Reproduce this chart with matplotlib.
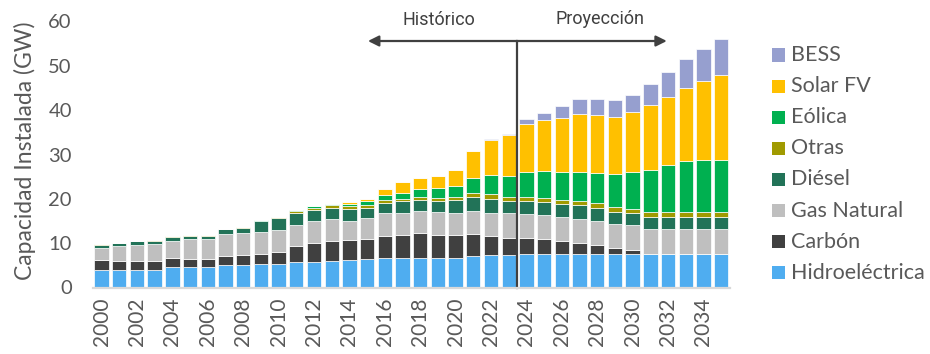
import matplotlib
matplotlib.use("Agg")
import matplotlib.pyplot as plt
from matplotlib.patches import Rectangle
import numpy as np

years = list(range(2000, 2036))
categories = ["Hidroeléctrica", "Carbón", "Gas Natural", "Diésel", "Otras", "Eólica", "Solar FV", "BESS"]
colors = ["#4FADF0", "#404040", "#BFBFBF", "#227358", "#A09A00", "#00B050", "#FFC000", "#969FCF"]

hidro = [3.95, 3.95, 3.95, 3.95, 4.6, 4.6, 4.6, 5.1, 5.1, 5.3, 5.3, 5.8, 5.8, 5.9, 6.2, 6.4, 6.6, 6.7,
         6.7, 6.7, 6.7, 7.0, 7.3, 7.4, 7.6, 7.6, 7.6, 7.6, 7.6, 7.6, 7.6, 7.6, 7.6, 7.6, 7.6, 7.6]
carbon = [2.15, 2.05, 2.05, 2.05, 2.0, 1.9, 1.9, 2.1, 2.3, 2.3, 2.7, 3.5, 4.25, 4.5, 4.5, 4.5, 5.1, 5.2,
          5.6, 5.2, 5.2, 5.1, 4.3, 3.8, 3.6, 3.3, 2.8, 2.4, 2.0, 1.2, 0.9, 0.0, 0.0, 0.0, 0.0, 0.0]
gas = [2.9, 3.3, 3.6, 3.9, 4.0, 4.4, 4.4, 4.8, 4.9, 4.9, 5.0, 4.9, 5.0, 5.1, 4.2, 4.7, 5.0, 4.9,
       5.0, 5.1, 4.8, 5.1, 5.1, 5.5, 5.4, 5.5, 5.4, 5.5, 5.4, 5.5, 5.5, 5.5, 5.5, 5.5, 5.5, 5.5]
diesel = [0.6, 0.7, 0.8, 0.7, 0.8, 0.8, 0.8, 1.1, 1.2, 2.4, 2.6, 2.7, 2.45, 2.5, 2.8, 2.3, 2.4, 2.6,
          2.5, 2.6, 3.1, 3.2, 3.3, 2.8, 2.8, 2.8, 3.0, 3.0, 3.0, 2.8, 2.8, 2.9, 2.9, 2.9, 2.9, 2.9]
otras = [0.15, 0.1, 0.1, 0.1, 0.15, 0.15, 0.15, 0.1, 0.1, 0.2, 0.2, 0.3, 0.5, 0.5, 0.7, 0.6, 0.7, 0.6,
         0.6, 0.6, 0.6, 0.9, 1.0, 1.0, 1.0, 1.0, 0.9, 0.9, 1.0, 1.0, 0.9, 1.0, 1.0, 1.0, 1.0, 1.0]
eolica = [0, 0, 0, 0, 0, 0, 0, 0, 0, 0.1, 0.1, 0.2, 0.3, 0.3, 0.5, 1.1, 1.1, 1.4,
          1.8, 2.2, 2.5, 3.5, 4.3, 4.7, 5.7, 6.1, 6.4, 6.7, 6.9, 7.4, 8.3, 9.6, 10.6, 11.6, 11.8, 11.8]
solar = [0, 0, 0, 0, 0, 0, 0, 0, 0, 0, 0, 0, 0.05, 0.1, 0.4, 0.4, 1.3, 2.4,
         2.4, 2.8, 3.6, 6.1, 8.0, 9.2, 10.7, 11.4, 12.2, 13.1, 13.0, 13.0, 13.5, 14.5, 15.3, 16.4, 17.7, 19.1]
bess = [0, 0, 0, 0, 0, 0, 0, 0, 0, 0, 0, 0, 0, 0, 0, 0, 0, 0,
        0, 0, 0, 0, 0.1, 0.3, 1.1, 1.6, 2.7, 3.4, 3.6, 3.8, 4.0, 4.8, 5.6, 6.5, 7.3, 8.1]

series = [hidro, carbon, gas, diesel, otras, eolica, solar, bess]
yticks = [0, 10, 20, 30, 40, 50, 60]
ylabel = "Capacidad Instalada (GW)"
hist_label = "Histórico"
proj_label = "Proyección"

TXT = "#595959"
W, H = 930, 354
fig = plt.figure(figsize=(W / 100, H / 100), dpi=100)
ax = fig.add_axes([92.7 / W, 1 - 287.5 / H, (730 - 92.7) / W, (287.5 - 21.5) / H])

x = np.arange(len(years))
bottom = np.zeros(len(years))
for vals, col, lab in zip(series, colors, categories):
    v = np.array(vals, dtype=float)
    ax.bar(x, v, width=0.81, bottom=bottom, color=col, edgecolor="white", linewidth=0.5, label=lab)
    bottom += v

ax.set_xlim(-0.5, len(years) - 0.5)
ax.set_ylim(0, 60)
ax.set_yticks(yticks)
ax.set_yticklabels([str(t) for t in yticks], fontsize=14.5, color=TXT, family="Lato")
ax.set_xticks(x[::2])
ax.set_xticklabels([str(y) for y in years[::2]], rotation=90, fontsize=15, color=TXT, family="Lato")
ax.tick_params(axis="both", length=0)
ax.tick_params(axis="y", pad=15)
ax.tick_params(axis="x", pad=7)
for s in ["left", "right", "top"]:
    ax.spines[s].set_visible(False)
ax.spines["bottom"].set_color("#D9D9D9")
ax.spines["bottom"].set_linewidth(1.6)

fig.text(25 / W, 1 - 151 / H, ylabel, rotation=90, ha="center", va="center",
         fontsize=16.5, color=TXT, family="Lato")

# Historic / projection marker
div = 23.45
y_arr = 55.6
ax.annotate("", xy=(15.05, y_arr), xytext=(div, y_arr),
            arrowprops=dict(arrowstyle="-|>", color="#404040", lw=1.6, mutation_scale=16,
                            shrinkA=0, shrinkB=0), annotation_clip=False)
ax.annotate("", xy=(31.93, y_arr), xytext=(div, y_arr),
            arrowprops=dict(arrowstyle="-|>", color="#404040", lw=1.6, mutation_scale=16,
                            shrinkA=0, shrinkB=0), annotation_clip=False)
ax.plot([div, div], [0, y_arr], color="#404040", lw=1.6, clip_on=False)
ax.text(19.05, 60.3, hist_label, ha="center", va="center", fontsize=13, color="#404040", family="Roboto")
ax.text(28.15, 60.5, proj_label, ha="center", va="center", fontsize=13, color="#404040", family="Roboto")

# Legend (reverse order)
for i, (lab, col) in enumerate(zip(categories[::-1], colors[::-1])):
    yc = 55 + i * 31.1
    fig.patches.append(Rectangle((772 / W, 1 - (yc + 6.5) / H), 13 / W, 13 / H,
                                 transform=fig.transFigure, facecolor=col, edgecolor="none"))
    fig.text(791 / W, 1 - yc / H, lab, ha="left", va="center", fontsize=15.5, color=TXT, family="Lato")

fig.savefig("out.png", dpi=100, facecolor="white")
